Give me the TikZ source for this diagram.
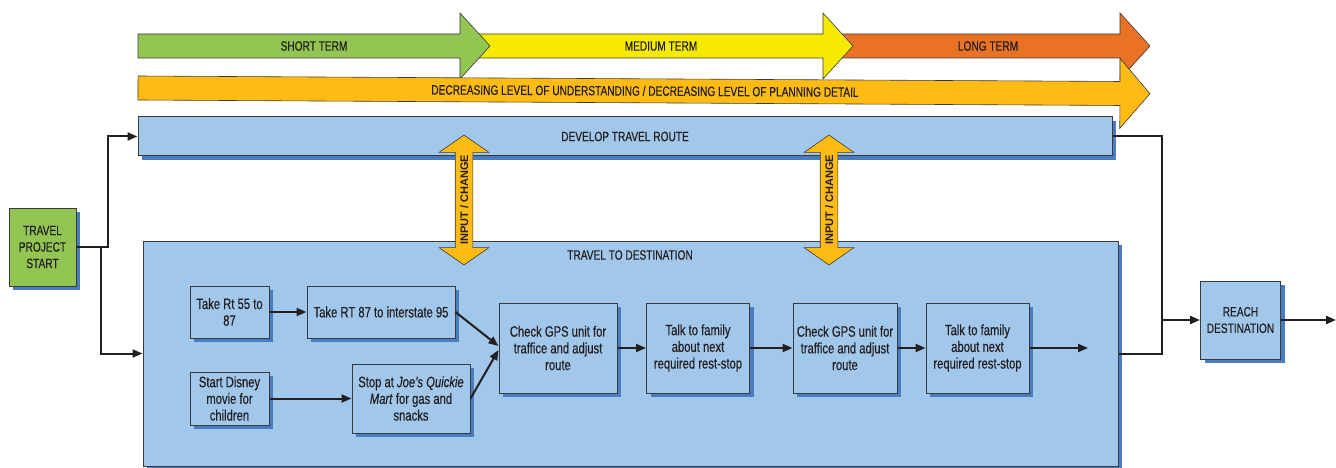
\documentclass[tikz,border=0pt]{standalone}
\usepackage{fontspec}
\setmainfont[FakeStretch=0.75, FakeBold=0.35]{Liberation Sans}
\newfontfamily\ioFont{Liberation Sans}
\usetikzlibrary{shapes.arrows,shadows,arrows.meta}

\definecolor{termgreen}{HTML}{92C551}
\definecolor{termyellow}{HTML}{F6EB00}
\definecolor{termorange}{HTML}{E97225}
\definecolor{amber}{HTML}{FDBB13}
\definecolor{boxblue}{HTML}{A1C7EA}
\definecolor{shadowblue}{HTML}{4A7CC1}
\definecolor{edgegray}{HTML}{3A3A3A}
\definecolor{ink}{HTML}{231F20}

\tikzset{
	box/.style = {draw = edgegray, line width = 1pt, fill = boxblue,
		align = center, inner sep = 1pt, text = ink,
		font = \fontsize{15}{16.7}\selectfont,
		drop shadow = {shadow xshift = 4pt, shadow yshift = -4pt,
			fill = shadowblue, opacity = 1}},
	capbox/.style = {box, font = \fontsize{13.5}{16.5}\selectfont},
	termedge/.style = {draw = edgegray, line width = 0.6pt},
	termtext/.style = {inner sep = 0pt, text = ink,
		font = \fontsize{13.5}{13.5}\selectfont},
	flow/.style = {line width = 2pt, draw = ink,
		-{Triangle[length = 10pt, width = 8pt]}},
	link/.style = {line width = 2pt, draw = ink},
	io/.style = {double arrow, draw = edgegray, line width = 0.6pt,
		fill = amber, rotate = 90,
		minimum height = 130pt, minimum width = 49pt,
		double arrow head extend = 16pt, double arrow tip angle = 110,
		inner xsep = 0pt, inner ysep = 4.5pt,
		text height = 8pt, text depth = 0pt, text = ink,
		font = \ioFont\bfseries\fontsize{11}{11}\selectfont}
}

% one of the time arrows on top
\newcommand{\TermArrow}[6]{%
	\draw[termedge, fill = #2] (#3,34) -- (#4,34) -- (#4,13) -- ({#4+30},46)
		-- (#4,79) -- (#4,58) -- (#3,58) -- cycle;
	\node[termtext] (#1) at (#5,46) {#6};}

\begin{document}
\begin{tikzpicture}[x = 1pt, y = -1pt]
	\useasboundingbox (0,0) rectangle (1336,468);
	\TermArrow{long}{termorange}{830}{1120}{988}{LONG TERM}
	\TermArrow{medium}{termyellow}{475}{823}{661}{MEDIUM TERM}
	\TermArrow{short}{termgreen}{138}{460}{314}{SHORT TERM}
	\begin{scope}[rotate around = {-0.32:(138,88)}]
		\draw[termedge, fill = amber] (138,76) -- (1120,76) -- (1120,53)
			-- (1150,88) -- (1120,123) -- (1120,100) -- (138,100) -- cycle;
		\node[termtext, rotate = -0.32] (detail) at (645,88)
			{DECREASING LEVEL OF UNDERSTANDING / DECREASING LEVEL OF PLANNING DETAIL};
	\end{scope}
	%
	\node[capbox, minimum width = 974pt, minimum height = 39pt] (develop)
		at (625,136.5) {DEVELOP TRAVEL ROUTE};
	\node[box, minimum width = 975pt, minimum height = 225pt] (travel)
		at (630.5,353.5) {};
	\node[termtext] (traveltitle) at (630,255) {TRAVEL TO DESTINATION};
	\node[capbox, fill = termgreen, minimum width = 67pt, minimum height = 78pt]
		(start) at (42.5,247) {TRAVEL\\PROJECT\\START};
	\node[capbox, minimum width = 80pt, minimum height = 78pt]
		(reach) at (1240.5,320) {REACH\\DESTINATION};
	%
	\node[box, minimum width = 79pt, minimum height = 52pt] (rt55)
		at (229.5,312) {Take Rt 55 to\\87};
	\node[box, minimum width = 148pt, minimum height = 52pt] (rt87)
		at (381,312) {Take RT 87 to interstate 95};
	\node[box, minimum width = 79pt, minimum height = 53pt] (disney)
		at (229.5,398.5) {Start Disney\\movie for\\children};
	\node[box, minimum width = 118pt, minimum height = 69pt] (joes)
		at (411,398.5) {Stop at \textit{Joe’s Quickie}\\\textit{Mart} for gas and\\snacks};
	\node[box, minimum width = 118pt, minimum height = 90pt] (gps1)
		at (558,348) {Check GPS unit for\\traffice and adjust\\route};
	\node[box, minimum width = 103pt, minimum height = 90pt] (talk1)
		at (698,348) {Talk to family\\about next\\required rest-stop};
	\node[box, minimum width = 104pt, minimum height = 90pt] (gps2)
		at (845,348) {Check GPS unit for\\traffice and adjust\\route};
	\node[box, minimum width = 103pt, minimum height = 90pt] (talk2)
		at (977.5,348) {Talk to family\\about next\\required rest-stop};
	%
	\node[io] (input1) at (464,200) {INPUT / CHANGE};
	\node[io] (input2) at (829,200) {INPUT / CHANGE};
	%
	\coordinate (split) at (101,247);
	\coordinate (merge) at (1162,320);
	\coordinate (tail) at (1088,348);
	\coordinate (out) at (1336,320);
	\draw[flow] (start.east) -- ++(31,0) |- (develop.west);
	\draw[flow] (split) |- (travel.west);
	\draw[link] (develop.east) -| (travel.east -| merge) -- (travel.east);
	\draw[flow] (merge) -- (reach.west);
	\draw[flow] (reach.east) -- (out);
	%
	\draw[flow] (rt55.east) -- (rt87.west);
	\draw[flow] (disney.east) -- (joes.west);
	\draw[flow] (rt87.east) -- ([yshift = 2pt]gps1.west);
	\draw[flow] (joes.east) -- ([yshift = -2pt]gps1.west);
	\draw[flow] (gps1) -- (talk1);
	\draw[flow] (talk1) -- (gps2);
	\draw[flow] (gps2) -- (talk2);
	\draw[flow] (talk2.east) -- (tail);
\end{tikzpicture}
\end{document}
